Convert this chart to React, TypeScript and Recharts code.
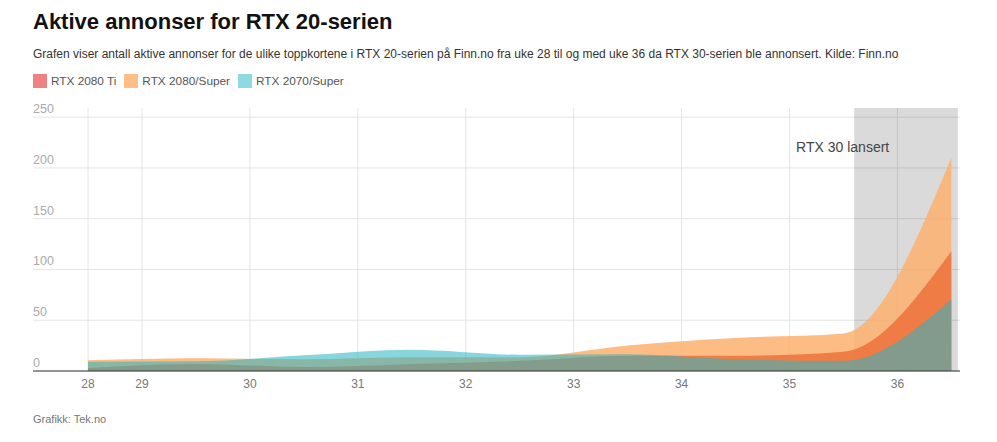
import React from "react";
import {
  AreaChart,
  Area,
  XAxis,
  YAxis,
  CartesianGrid,
  ReferenceArea,
} from "recharts";

// uke (midt i uka) og antall aktive annonser
const weeks = [28.5, 29.5, 30.5, 31.5, 32.5, 33.5, 34.5, 35.5, 36.5];
const rtx2080Ti = [3, 7, 4, 7, 10, 15, 15, 19, 118];
const rtx2080Super = [10.5, 12.5, 11.5, 13.5, 13.5, 25, 32.5, 37, 210];
const rtx2070Super = [9, 9.5, 15.5, 21, 16, 16.5, 11.5, 10, 70.5];

const xTicks = [28.5, 29, 30, 31, 32, 33, 34, 35, 36];
const yTicks = [0, 50, 100, 150, 200, 250];

const xDomain = [27.99, 36.58];
const yDomain = [0, 259];

const launchStart = 35.6;
const launchEnd = 36.56;

const data = weeks.map((w, i) => ({
  week: w,
  ti: rtx2080Ti[i],
  super80: rtx2080Super[i],
  super70: rtx2070Super[i],
}));

const font = '"Liberation Sans", Arial, Helvetica, sans-serif';

const legendItems = [
  { name: "RTX 2080 Ti", color: "#ee8282" },
  { name: "RTX 2080/Super", color: "#ffbe86" },
  { name: "RTX 2070/Super", color: "#8ed9e2" },
];

const YTick = (props: any) => {
  const { y, payload } = props;
  return (
    <text x={33} y={y - 4} fill="#aaa" fontSize={12.5} fontFamily={font}>
      {payload.value}
    </text>
  );
};

const LaunchLabel = (props: any) => {
  const { viewBox } = props;
  return (
    <text
      x={viewBox.x + 35}
      y={viewBox.y + 44}
      textAnchor="end"
      fill="#444"
      fontSize={14}
      fontFamily={font}
    >
      RTX 30 lansert
    </text>
  );
};

// grid lines at the axis ticks only (no lines on the plot border)
const vGen = ({ offset }: any) =>
  xTicks.map(
    (t) =>
      offset.left + ((t - xDomain[0]) / (xDomain[1] - xDomain[0])) * offset.width
  );
const hGen = ({ offset }: any) =>
  yTicks.map(
    (t) =>
      offset.top +
      offset.height -
      ((t - yDomain[0]) / (yDomain[1] - yDomain[0])) * offset.height
  );

export default function App() {
  return (
    <div
      style={{
        position: "absolute",
        left: 0,
        top: 0,
        width: 997,
        height: 442,
        background: "#fff",
        fontFamily: font,
      }}
    >
      <div
        style={{
          position: "absolute",
          left: 33,
          top: 11,
          fontSize: 22,
          lineHeight: "22px",
          fontWeight: "bold",
          color: "#111",
          whiteSpace: "nowrap",
        }}
      >
        Aktive annonser for RTX 20-serien
      </div>
      <div
        style={{
          position: "absolute",
          left: 33,
          top: 48,
          fontSize: 12,
          lineHeight: "12px",
          color: "#333",
          whiteSpace: "nowrap",
        }}
      >
        Grafen viser antall aktive annonser for de ulike toppkortene i RTX
        20-serien på Finn.no fra uke 28 til og med uke 36 da RTX 30-serien ble
        annonsert. Kilde: Finn.no
      </div>
      <div
        style={{
          position: "absolute",
          left: 33,
          top: 74,
          display: "flex",
          alignItems: "center",
          fontSize: 11.8,
          lineHeight: "14px",
          color: "#555",
          whiteSpace: "nowrap",
        }}
      >
        {legendItems.map((item) => (
          <div
            key={item.name}
            style={{ display: "flex", alignItems: "center", marginRight: 8 }}
          >
            <span
              style={{
                display: "inline-block",
                width: 14,
                height: 14,
                background: item.color,
                marginRight: 4,
              }}
            />
            {item.name}
          </div>
        ))}
      </div>

      <div style={{ position: "absolute", left: 0, top: 90 }}>
        <AreaChart
          width={997}
          height={320}
          data={data}
          margin={{ top: 18, right: 37, bottom: 9, left: 32 }}
        >
          <CartesianGrid
            stroke="#e5e5e5"
            verticalCoordinatesGenerator={vGen}
            horizontalCoordinatesGenerator={hGen}
          />
          <XAxis
            type="number"
            dataKey="week"
            domain={xDomain}
            allowDataOverflow
            ticks={xTicks}
            tickFormatter={(v) => String(Math.floor(v))}
            height={30}
            stroke="#333"
            tickLine={false}
            tick={{ fill: "#777", fontSize: 12, fontFamily: font }}
          />
          <YAxis
            type="number"
            domain={yDomain}
            ticks={yTicks}
            width={1}
            axisLine={false}
            tickLine={false}
            tick={<YTick />}
          />
          <ReferenceArea
            x1={launchStart}
            x2={launchEnd}
            fill="#000"
            fillOpacity={0.145}
            stroke="none"
            ifOverflow="visible"
            label={<LaunchLabel />}
          />
          <Area
            type="monotone"
            dataKey="super80"
            stroke="none"
            fill="#fdb06f"
            fillOpacity={0.85}
            isAnimationActive={false}
          />
          <Area
            type="monotone"
            dataKey="ti"
            stroke="none"
            fill="#ee723b"
            fillOpacity={0.85}
            isAnimationActive={false}
          />
          <Area
            type="monotone"
            dataKey="super70"
            stroke="none"
            fill="#2db4c4"
            fillOpacity={0.56}
            isAnimationActive={false}
          />
        </AreaChart>
      </div>

      <div
        style={{
          position: "absolute",
          left: 33,
          top: 414,
          fontSize: 11,
          lineHeight: "11px",
          color: "#777",
        }}
      >
        Grafikk: Tek.no
      </div>
    </div>
  );
}
